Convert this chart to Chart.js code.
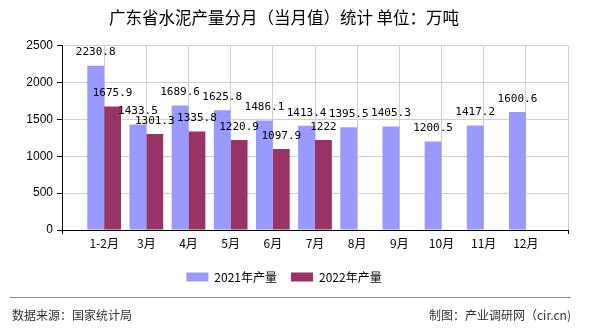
<!DOCTYPE html>
<html>
<head>
<meta charset="utf-8">
<script src="https://cdn.jsdelivr.net/npm/chart.js@4"></script>
<style>
  body { margin: 0; background: #fff; }
  #wrap { position: relative; width: 590px; height: 330px; }
  #footLine { position: absolute; left: 10px; top: 297px; width: 561px; height: 0; border-top: 1px solid #888; }
  .foot { position: absolute; top: 306px; font: 12px "Noto Sans CJK SC", sans-serif; color: #333; line-height: 18px; }
</style>
</head>
<body>
<div id="wrap">
  <canvas id="chart" width="590" height="330"></canvas>
  <div id="footLine"></div>
  <div class="foot" style="left:12px">数据来源：国家统计局</div>
  <div class="foot" style="right:19px">制图：产业调研网（cir.cn)</div>
</div>
<script>
// months padded with an empty slot at each end, as in the original axis
const months = ['', '1-2月', '3月', '4月', '5月', '6月', '7月', '8月', '9月', '10月', '11月', '12月', ''];
const output2021 = [null, 2230.8, 1433.5, 1689.6, 1625.8, 1486.1, 1413.4, 1395.5, 1405.3, 1200.5, 1417.2, 1600.6, null];
const output2022 = [null, 1675.9, 1301.3, 1335.8, 1220.9, 1097.9, 1222, null, null, null, null, null, null];
const yTicks = [0, 500, 1000, 1500, 2000, 2500];

const cjk = '"Noto Sans CJK SC", sans-serif';

// value labels above each bar
const barLabels = {
  id: 'barLabels',
  afterDatasetsDraw(chart) {
    const ctx = chart.ctx;
    ctx.save();
    ctx.font = '11px "DejaVu Sans Mono", monospace';
    ctx.fillStyle = '#000';
    ctx.textAlign = 'center';
    ctx.textBaseline = 'middle';
    chart.data.datasets.forEach((ds, i) => {
      chart.getDatasetMeta(i).data.forEach((bar, j) => {
        const v = ds.data[j];
        if (v == null) return;
        ctx.fillText(String(v), bar.x, bar.y - 13);
      });
    });
    ctx.restore();
  }
};

new Chart(document.getElementById('chart'), {
  type: 'bar',
  data: {
    labels: months,
    datasets: [
      { label: '2021年产量', data: output2021, backgroundColor: '#9999FF' },
      { label: '2022年产量', data: output2022, backgroundColor: '#993366' }
    ]
  },
  options: {
    responsive: false,
    animation: false,
    layout: { padding: { left: 0, right: 22, top: 0, bottom: 37 } },
    datasets: { bar: { barPercentage: 1, categoryPercentage: 0.8 } },
    plugins: {
      title: {
        display: true,
        text: '广东省水泥产量分月（当月值）统计 单位：万吨',
        color: '#000',
        font: { family: cjk, size: 16.5, weight: 'normal' },
        padding: { top: 8, bottom: 18 }
      },
      legend: {
        position: 'bottom',
        labels: {
          color: '#000',
          boxWidth: 22,
          boxHeight: 9,
          padding: 14,
          font: { family: cjk, size: 12 }
        }
      },
      tooltip: { enabled: false }
    },
    scales: {
      x: {
        offset: false,
        grid: {
          offset: false,
          color: '#d0d0d0',
          tickLength: 4,
          // only the two ends of the axis carry a tick mark
          tickColor: (c) => (c.index === 0 || c.index === months.length - 1) ? '#000' : 'rgba(0,0,0,0)'
        },
        border: { color: '#000', width: 1 },
        ticks: {
          color: '#000',
          autoSkip: false,
          maxRotation: 0,
          padding: 2,
          font: { family: cjk, size: 12 }
        },
        afterFit: (s) => { s.height = 27; }
      },
      y: {
        min: yTicks[0],
        max: yTicks[yTicks.length - 1],
        grid: { color: '#d0d0d0', tickColor: '#000', tickLength: 5 },
        border: { color: '#000', width: 1 },
        afterBuildTicks: (s) => { s.ticks = yTicks.map(v => ({ value: v })); },
        ticks: {
          color: '#000',
          padding: 4,
          callback: (v) => String(v),
          font: { family: '"Liberation Sans", Arial, sans-serif', size: 12 }
        },
        afterFit: (s) => { s.width = 62; }
      }
    }
  },
  plugins: [barLabels]
});
</script>
</body>
</html>
